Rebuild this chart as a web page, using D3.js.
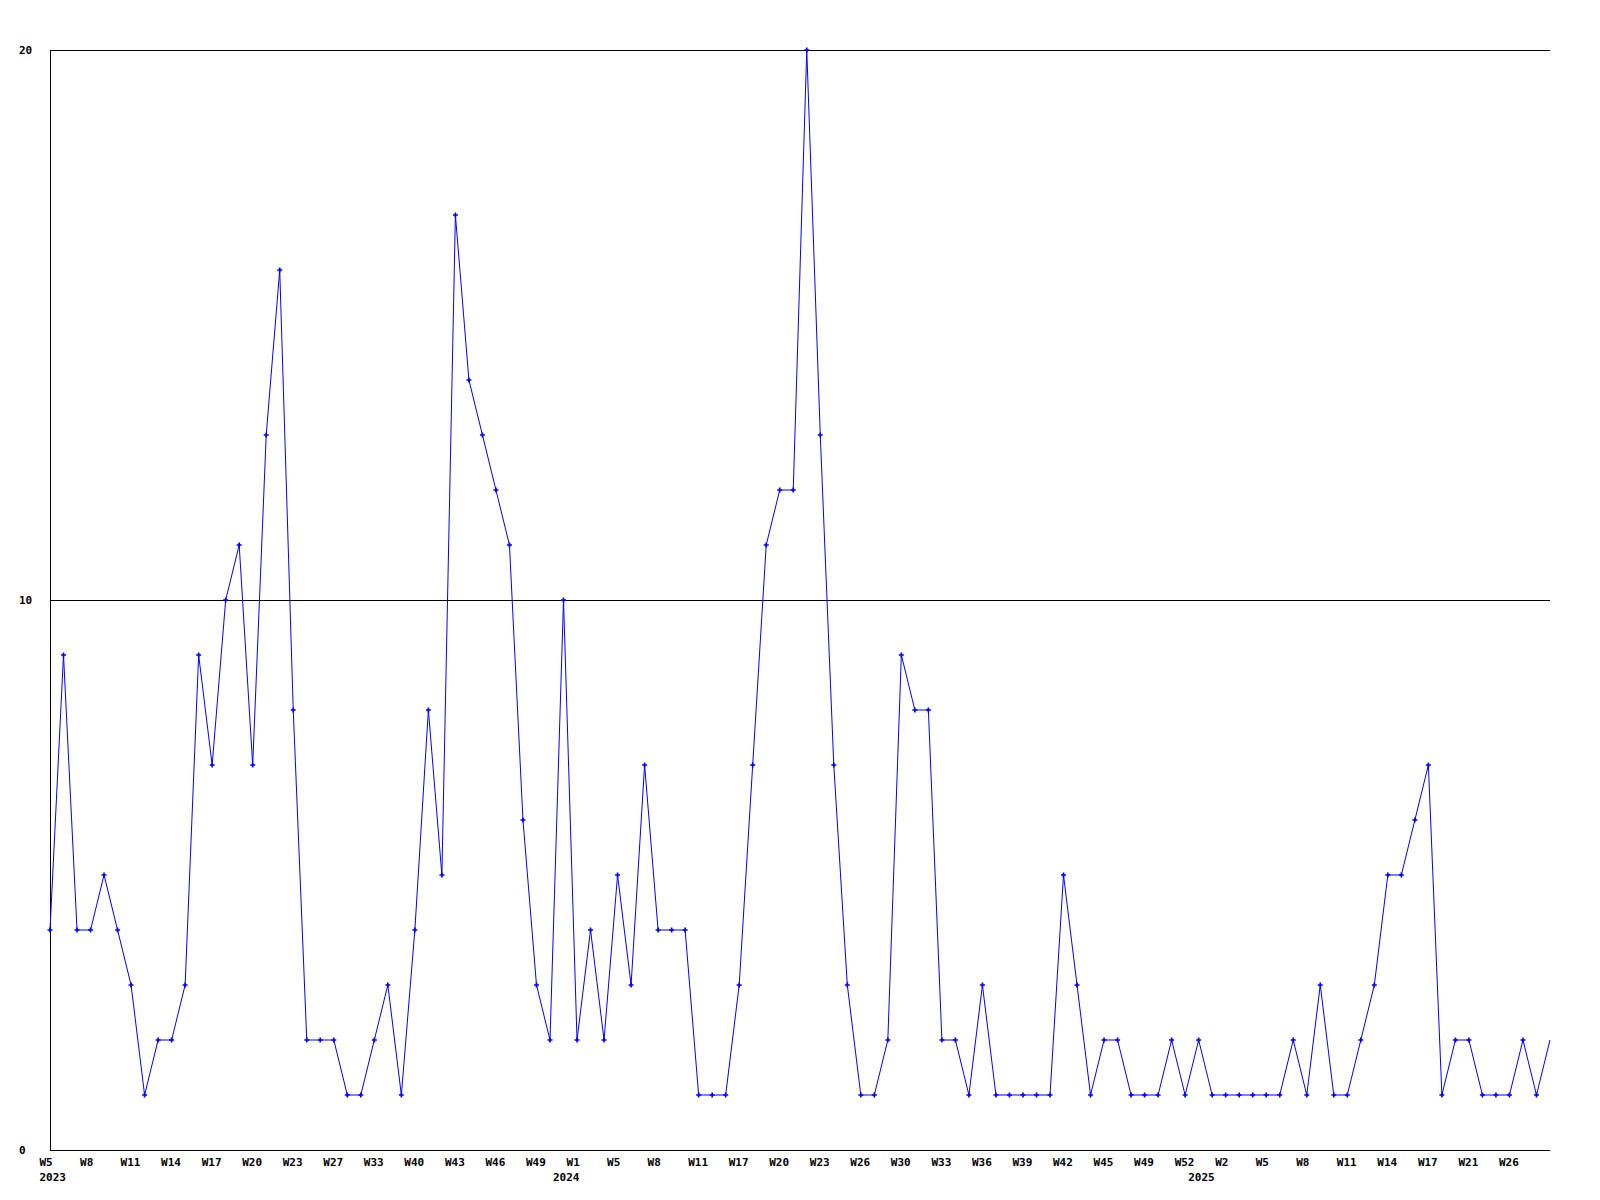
<!DOCTYPE html>
<html>
<head>
<meta charset="utf-8">
<script src="https://cdn.jsdelivr.net/npm/d3@7"></script>
<style>
  html, body { margin: 0; padding: 0; background: #fff; }
  svg { display: block; }
  text { font-family: "DejaVu Sans Mono", "Liberation Mono", monospace; font-weight: bold; font-size: 11px; fill: #000; }
</style>
</head>
<body>
<svg id="chart" width="1600" height="1200"></svg>
<script>
// Weekly values (one per data point, in order)
const values = [
  4, 9, 4, 4, 5, 4, 3, 1, 2, 2,
  3, 9, 7, 10, 11, 7, 13, 16, 8, 2,
  2, 2, 1, 1, 2, 3, 1, 4, 8, 5,
  17, 14, 13, 12, 11, 6, 3, 2, 10, 2,
  4, 2, 5, 3, 7, 4, 4, 4, 1, 1,
  1, 3, 7, 11, 12, 12, 20, 13, 7, 3,
  1, 1, 2, 9, 8, 8, 2, 2, 1, 3,
  1, 1, 1, 1, 1, 5, 3, 1, 2, 2,
  1, 1, 1, 2, 1, 2, 1, 1, 1, 1,
  1, 1, 2, 1, 3, 1, 1, 2, 3, 5,
  5, 6, 7, 1, 2, 2, 1, 1, 1, 2,
  1, 2
];
// Week tick labels, shown at every third data point
const weekLabels = [
  "W5", "W8", "W11", "W14", "W17", "W20", "W23", "W27", "W33", "W40",
  "W43", "W46", "W49", "W1", "W5", "W8", "W11", "W17", "W20", "W23",
  "W26", "W30", "W33", "W36", "W39", "W42", "W45", "W49", "W52", "W2",
  "W5", "W8", "W11", "W14", "W17", "W21", "W26"
];
const weekLabelStep = 3;
// Year labels and the data-point index they sit under
const yearNames = ["2023", "2024", "2025"];
const yearIndex = [0, 38, 85];
// Y axis ticks
const yTicks = [0, 10, 20];

const margin = { left: 50, top: 50, right: 50, bottom: 50 };
const W = 1600, H = 1200;
const svg = d3.select("#chart");

const x = d3.scalePoint()
  .domain(d3.range(values.length))
  .range([margin.left, W - margin.right]);
const y = d3.scaleLinear()
  .domain([0, 20])
  .range([H - margin.bottom, margin.top]);

// Y axis with gridlines
const yAxis = svg.append("g")
  .attr("transform", `translate(${margin.left},0)`)
  .call(d3.axisLeft(y).tickValues(yTicks).tickSize(-(W - margin.left - margin.right)).tickFormat(d3.format("d")));
yAxis.select(".domain").remove();
yAxis.selectAll(".tick line").attr("stroke", "#000").attr("stroke-width", 1).attr("shape-rendering", "crispEdges");
yAxis.selectAll(".tick text")
  .attr("x", -31).attr("dy", "0.35em")
  .attr("text-anchor", "start");

// Axis lines
svg.append("line")
  .attr("x1", margin.left).attr("x2", margin.left)
  .attr("y1", y(20)).attr("y2", y(0))
  .attr("stroke", "#000").attr("shape-rendering", "crispEdges");
svg.append("line")
  .attr("x1", margin.left).attr("x2", W - margin.right)
  .attr("y1", y(0)).attr("y2", y(0))
  .attr("stroke", "#000").attr("shape-rendering", "crispEdges");

// X tick labels
const xg = svg.append("g");
xg.selectAll("text.week")
  .data(weekLabels)
  .join("text")
  .attr("class", "week")
  .attr("x", (d, i) => x(i * weekLabelStep) - 10.5)
  .attr("y", y(0) + 12)
  .attr("dy", "0.35em")
  .text(d => d);
xg.selectAll("text.year")
  .data(yearNames)
  .join("text")
  .attr("class", "year")
  .attr("x", (d, i) => x(yearIndex[i]) - 10.5)
  .attr("y", y(0) + 27)
  .attr("dy", "0.35em")
  .text(d => d);

// Line
const line = d3.line()
  .x((d, i) => x(i))
  .y(d => y(d));
svg.append("path")
  .datum(values)
  .attr("d", line)
  .attr("fill", "none")
  .attr("stroke", "#0000ff")
  .attr("stroke-width", 1);

// Markers (all but the point on the right edge)
svg.append("g")
  .selectAll("path")
  .data(values.slice(0, values.length - 1))
  .join("path")
  .attr("transform", (d, i) => `translate(${x(i)},${y(d)})`)
  .attr("d", d3.symbol(d3.symbolCross, 14))
  .attr("fill", "#0000ff");
</script>
</body>
</html>
